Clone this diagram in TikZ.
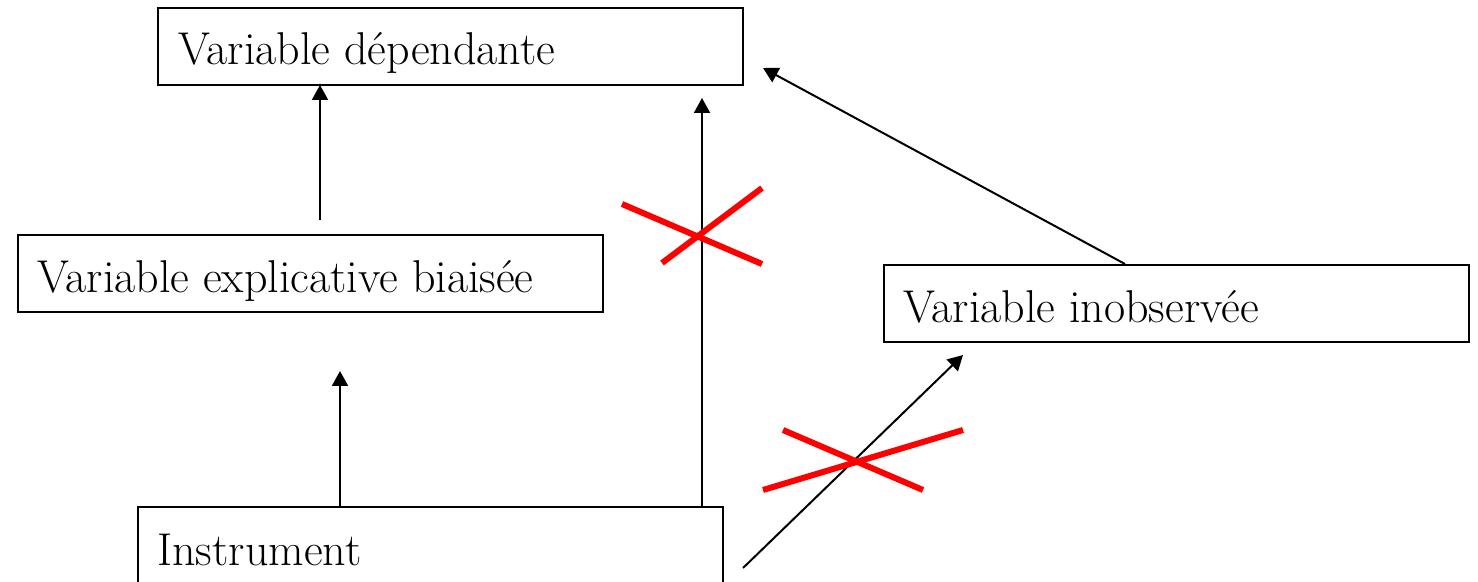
\documentclass[tikz,border=0pt]{standalone}
\usetikzlibrary{arrows.meta}
\begin{document}
\begin{tikzpicture}[x=0.5pt,y=-0.5pt,
  box/.style={draw,line width=1pt,minimum width=292.5pt,minimum height=38.5pt,inner sep=0pt,anchor=north west},
  lbl/.style={inner sep=0pt,anchor=base west,font=\fontsize{23}{27}\selectfont},
  arr/.style={line width=1pt,-{Triangle[length=7.5pt,width=8pt]}},
  cross/.style={draw=red,line width=3pt}]
\useasboundingbox (0,0) rectangle (1478,582);
\clip (0,0) rectangle (1478,582);
% boxes
\node[box] (dep) at (157,7) {};
\node[box] (exp) at (17,234) {};
\node[box] (ino) at (883,264) {};
\node[box] (ins) at (137,506) {};
% labels
\node[lbl] (tdep) at (178,65) {Variable dépendante};
\node[lbl] (texp) at (37,293) {Variable explicative biaisée};
\node[lbl] (tino) at (903,323) {Variable inobservée};
\node[lbl] (tins) at (157,565) {Instrument};
% connector end points
\coordinate (a1s) at (320,220);
\coordinate (a1e) at (320,85);
\coordinate (a2s) at (340,506);
\coordinate (a2e) at (340,371);
\coordinate (a3s) at (702,506);
\coordinate (a3e) at (702,98);
\coordinate (a4s) at (1125,264);
\coordinate (a4e) at (763,68);
\coordinate (a5s) at (743,568);
\coordinate (a5e) at (963,355);
\draw[arr] (a1s) -- (a1e);
\draw[arr] (a2s) -- (a2e);
\draw[arr] (a3s) -- (a3e);
\draw[arr] (a4s) -- (a4e);
\draw[arr] (a5s) -- (a5e);
% red crosses
\coordinate (c1a) at (622,204);
\coordinate (c1b) at (762,264);
\coordinate (c1c) at (662,263);
\coordinate (c1d) at (762,188);
\draw[cross] (c1a) -- (c1b);
\draw[cross] (c1c) -- (c1d);
\coordinate (c2a) at (783,430);
\coordinate (c2b) at (923,490);
\coordinate (c2c) at (763,490);
\coordinate (c2d) at (963,430);
\draw[cross] (c2a) -- (c2b);
\draw[cross] (c2c) -- (c2d);
\end{tikzpicture}
\end{document}
